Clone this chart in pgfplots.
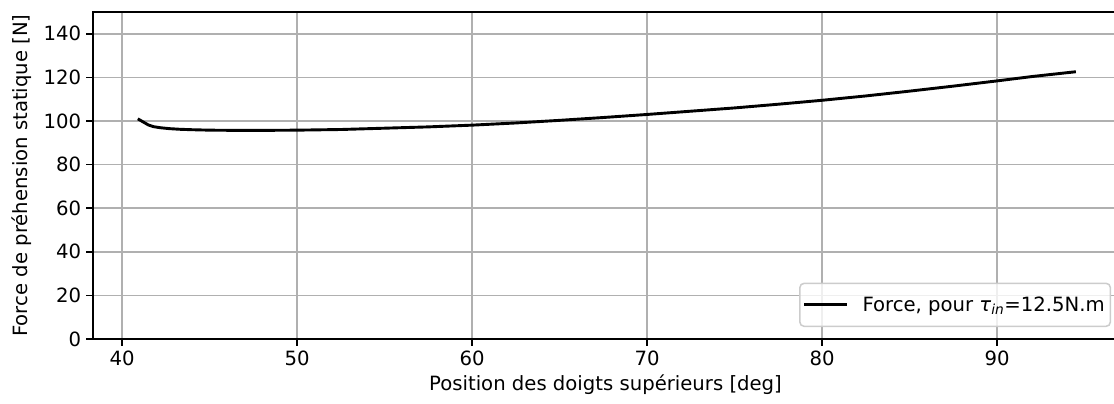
\documentclass[border=0pt]{standalone}
\usepackage{fontspec}
\setmainfont{DejaVu Sans}
\usepackage{pgfplots}
\pgfplotsset{compat=1.18}
\usepackage{pgfplotstable}
\definecolor{gridgray}{HTML}{B0B0B0}
\definecolor{legedge}{HTML}{CCCCCC}
\pgfplotstableread{
x y
40.9 101.0
41.2 99.6
41.5 98.2
41.8 97.4
42.2 96.9
42.7 96.5
43.3 96.2
44.0 96.0
45.0 95.8
46.5 95.7
48.0 95.7
50.0 95.8
52.5 96.1
55.0 96.7
57.5 97.3
60.0 98.1
62.5 99.1
65.0 100.3
67.5 101.6
70.0 103.0
72.5 104.5
75.0 106.0
77.5 107.7
80.0 109.5
82.5 111.5
85.0 113.7
87.5 116.0
90.0 118.4
92.0 120.4
94.5 122.6
}\forcedata
\begin{document}
\begin{tikzpicture}
\begin{axis}[
  scale only axis,
  width=738bp, height=235.44bp,
  xmin=38.34, xmax=96.91,
  ymin=0, ymax=150,
  xtick={40,50,60,70,80,90},
  ytick={0,20,40,60,80,100,120,140},
  xtick pos=bottom, ytick pos=left,
  tick align=outside,
  major tick length=5pt,
  tick style={black, line width=1.1pt},
  axis line style={black, line width=1.1pt},
  grid=major,
  major grid style={gridgray, line width=1.1pt},
  /pgf/number format/assume math mode=true,
  tick label style={font=\fontsize{14.2}{17}\selectfont, text=black},
  xlabel={Position des doigts supérieurs [deg]},
  ylabel={Force de préhension statique [N]},
  label style={font=\fontsize{14.2}{17}\selectfont},
  xlabel style={at={(axis description cs:0.5,0)}, anchor=center, yshift=-33bp},
  ylabel style={at={(axis description cs:-0.0695,0.5)}, anchor=center},
  legend style={at={(1,0)}, anchor=south east, xshift=-5bp, yshift=8.6bp,
    draw=legedge, rounded corners=3pt, fill=white, fill opacity=0.8, text opacity=1,
    font=\fontsize{14.2}{17}\selectfont, inner xsep=2pt, inner ysep=7.5pt,
    line width=1.1pt},
  legend cell align=left,
  legend image code/.code={\draw[line width=2.1pt] (0bp,0bp) -- (31bp,0bp); \path (39bp,0bp);},
]
\addplot[black, line width=2.1pt] table[x=x, y=y] {\forcedata};
\addlegendentry{Force, pour {\itshape τ\textsubscript{in}}=12.5N.m}
\end{axis}
\pgfresetboundingbox
\path (-66.96bp,-46.08bp) rectangle (735.1bp,244.08bp);
\end{tikzpicture}
\end{document}
